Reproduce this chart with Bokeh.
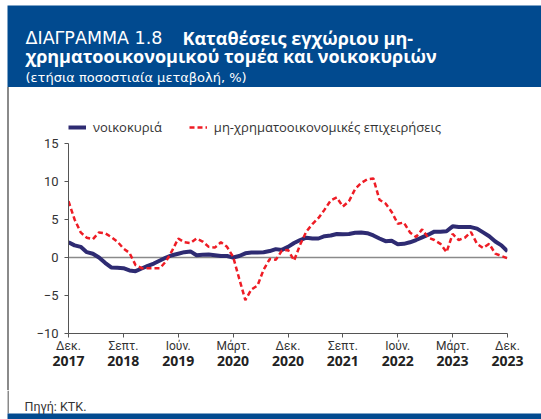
from bokeh.plotting import figure
from bokeh.layouts import column, row
from bokeh.models import (Range1d, FixedTicker, LinearAxis, Span, Legend,
                          LegendItem, BoxAnnotation, Div)
from bokeh.core.properties import value
from bokeh.embed import file_html
from bokeh.resources import INLINE

# ---------------- data ----------------
months = list(range(73))  # Dec 2017 ... Dec 2023, monthly
tick_pos = [0, 9, 18, 27, 36, 45, 54, 63, 72]
tick_months = ["Δεκ.", "Σεπτ.", "Ιούν.", "Μάρτ.", "Δεκ.", "Σεπτ.", "Ιούν.", "Μάρτ.", "Δεκ."]
tick_years = ["2017", "2018", "2019", "2020", "2020", "2021", "2022", "2023", "2023"]
y_ticks = [-10, -5, 0, 5, 10, 15]

households = [
    2.0, 1.6, 1.4, 0.7, 0.5, 0.0, -0.7, -1.3, -1.35, -1.4,
    -1.7, -1.8, -1.45, -1.1, -0.8, -0.4, 0.0, 0.3, 0.5, 0.7,
    0.8, 0.3, 0.35, 0.4, 0.3, 0.2, 0.2, 0.0, 0.2, 0.55,
    0.65, 0.65, 0.7, 0.85, 1.1, 1.0, 1.4, 1.9, 2.3, 2.6,
    2.5, 2.5, 2.8, 2.9, 3.1, 3.05, 3.1, 3.25, 3.3, 3.2,
    2.9, 2.5, 2.15, 2.2, 1.75, 1.8, 2.0, 2.3, 2.65, 3.0,
    3.4, 3.4, 3.45, 4.1, 4.0, 4.0, 4.0, 3.8, 3.3, 2.8,
    2.1, 1.6, 0.8,
]
corporations = [
    7.4, 5.0, 3.3, 2.6, 2.4, 3.3, 3.2, 2.7, 2.1, 1.2,
    0.6, -1.0, -1.4, -1.4, -1.4, -1.4, -0.5, 0.9, 2.5, 2.0,
    1.9, 2.5, 2.1, 1.4, 1.3, 2.0, 1.4, 0.1, -2.8, -5.6,
    -4.2, -3.7, -1.6, -0.2, -0.3, 0.9, 1.0, -0.4, 1.7, 3.4,
    4.4, 5.2, 6.3, 7.5, 7.9, 6.7, 7.4, 9.0, 9.8, 10.3,
    10.4, 7.6, 7.1, 6.0, 4.45, 4.6, 3.3, 2.7, 3.7, 2.6,
    2.3, 1.8, 0.7, 3.1, 2.3, 2.6, 3.35, 1.8, 1.25, 1.8,
    0.5, 0.2, -0.1,
]

title_1a = "ΔΙΑΓΡΑΜΜΑ 1.8"
title_1b = "Καταθέσεις εγχώριου μη-"
title_2 = "χρηματοοικονομικού τομέα και νοικοκυριών"
subtitle = "(ετήσια ποσοστιαία μεταβολή, %)"
source_text = "Πηγή: ΚΤΚ."

# ---------------- style ----------------
W = 541
HEAD_H, MAIN_H, FOOT_H = 87, 303, 29
EDGE = 7          # left white gutter before the grey rule
LINE_W = 2
SANS = "Open Sans"
WIDE = "DejaVu Sans"
TICKF = "Roboto"
NAVY = "#2E2B72"
RED = "#EE1C25"
BLUE = "#014A8F"
GREY = "#8a8a8a"


def bare(width, height):
    f = figure(width=width, height=height, output_backend="svg", toolbar_location=None,
               x_range=Range1d(0, width), y_range=Range1d(0, height),
               x_axis_type=None, y_axis_type=None,
               min_border_left=0, min_border_right=0, min_border_top=0, min_border_bottom=0)
    f.outline_line_color = None
    f.background_fill_color = "white"
    f.border_fill_color = "white"
    return f


# ---------------- header ----------------
head = bare(W, HEAD_H)
head.add_layout(BoxAnnotation(left=EDGE, right=W, bottom=0, top=HEAD_H - 5,
                              fill_color=BLUE, fill_alpha=1, line_color=None,
                              level="underlay"))
head.text(x=[25], y=[HEAD_H - 37], text=[title_1a], text_color="white",
          text_font=value(WIDE), text_font_size="17.5px", text_baseline="alphabetic")
head.text(x=[182], y=[HEAD_H - 37], text=[title_1b], text_color="white",
          text_font=value(SANS), text_font_size="18px", text_font_style="bold",
          text_baseline="alphabetic")
head.text(x=[25], y=[HEAD_H - 55], text=[title_2], text_color="white",
          text_font=value(SANS), text_font_size="18px", text_font_style="bold",
          text_baseline="alphabetic")
head.text(x=[25], y=[HEAD_H - 77], text=[subtitle], text_color="white",
          text_font=value(WIDE), text_font_size="13px", text_baseline="alphabetic")

# ---------------- main chart ----------------
MW = W - EDGE - LINE_W
FL, FR, FT, FB = 59, 498, 31, 246      # frame edges inside main figure (px)
PX_PER_UNIT = 190 / 25                  # -10..15 spans 190 px in the reference
Y_TOP = 15 + (FB - FT - 190) / PX_PER_UNIT  # head-room for the legend
p = figure(width=MW, height=MAIN_H, output_backend="svg", toolbar_location=None,
           x_range=Range1d(0, 72), y_range=Range1d(-10, Y_TOP),
           x_axis_type=None, y_axis_type=None,
           min_border_left=FL, min_border_right=MW - FR,
           min_border_top=FT, min_border_bottom=MAIN_H - FB)
p.outline_line_color = None

yax = LinearAxis(ticker=FixedTicker(ticks=y_ticks), bounds=(-10, 15),
                 axis_line_color="#555555", axis_line_width=1,
                 major_tick_line_color="#555555", major_tick_out=4, major_tick_in=0,
                 minor_tick_out=0, minor_tick_in=0,
                 major_label_text_font=TICKF, major_label_text_font_size="13px",
                 major_label_text_color="#333333", major_label_standoff=6)
p.add_layout(yax, "left")

xax = LinearAxis(ticker=FixedTicker(ticks=tick_pos),
                 major_label_overrides={t: m for t, m in zip(tick_pos, tick_months)},
                 axis_line_color="#555555", axis_line_width=1,
                 major_tick_line_color="#555555", major_tick_out=4, major_tick_in=0,
                 minor_tick_out=0, minor_tick_in=0,
                 major_label_text_font=TICKF, major_label_text_font_size="12px",
                 major_label_text_color="#333333", major_label_standoff=1)
p.add_layout(xax, "below")

xax2 = LinearAxis(ticker=FixedTicker(ticks=tick_pos),
                  major_label_overrides={t: y for t, y in zip(tick_pos, tick_years)},
                  axis_line_color=None, major_tick_line_color=None,
                  major_tick_out=0, major_tick_in=0, minor_tick_out=0, minor_tick_in=0,
                  major_label_text_font=SANS, major_label_text_font_size="14px",
                  major_label_text_font_style="bold",
                  major_label_text_color="#222222", major_label_standoff=0)
p.add_layout(xax2, "below")

p.add_layout(Span(location=0, dimension="width", line_color=GREY,
                  line_width=1.5, level="underlay"))

r1 = p.line(months, households, line_color=NAVY, line_width=4)
r2 = p.line(months, corporations, line_color=RED, line_width=2.5, line_dash="5 3")

legend = Legend(items=[LegendItem(label="νοικοκυριά", renderers=[r1]),
                       LegendItem(label="μη-χρηματοοικονομικές επιχειρήσεις", renderers=[r2])],
                orientation="horizontal", location="top_left",
                border_line_color=None, background_fill_alpha=0,
                label_text_font=SANS, label_text_font_size="13px",
                label_text_color="#333333", glyph_width=18, glyph_height=14,
                label_standoff=7, spacing=27, padding=2, margin=0)
p.add_layout(legend, "center")

side = Div(text="", width=LINE_W, height=MAIN_H, margin=(0, 0, 0, EDGE),
           styles={"background-color": GREY})

# ---------------- footer ----------------
foot = bare(W, FOOT_H)
foot.add_layout(BoxAnnotation(left=EDGE, right=EDGE + 1.5, bottom=6, top=FOOT_H,
                              fill_color=GREY, fill_alpha=1, line_color=None,
                              level="underlay"))
foot.add_layout(BoxAnnotation(left=EDGE, right=W, bottom=0, top=6,
                              fill_color=BLUE, fill_alpha=1, line_color=None,
                              level="underlay"))
foot.text(x=[24], y=[13], text=[source_text], text_color="#333333",
          text_font=value(TICKF), text_font_size="12.5px", text_baseline="alphabetic")

layout = column(head, row(side, p, spacing=0), foot, spacing=0)

open("out.html", "w").write(file_html(layout, INLINE))
